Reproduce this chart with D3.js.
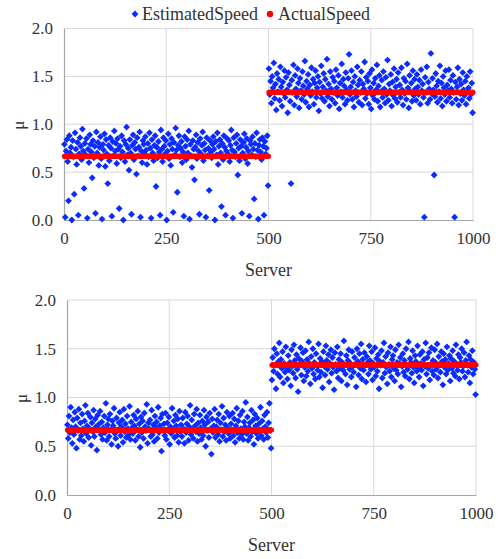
<!DOCTYPE html>
<html>
<head>
<meta charset="utf-8">
<script src="https://cdn.jsdelivr.net/npm/d3@7"></script>
<style>
  body { margin: 0; background: #fff; }
  text { font-family: "Liberation Serif", "Times New Roman", serif; fill: #333; }
</style>
</head>
<body>
<div id="chart"></div>
<script>
const xTicks = [0, 250, 500, 750, 1000]
const yTicks = [0, 0.5, 1.0, 1.5, 2.0]
const seriesNames = ['EstimatedSpeed', 'ActualSpeed']
const xTitle = 'Server'
const yTitle = 'μ'

// actual speed is a step: one level per server range
const actualTop = [{from: 1, to: 500, value: 0.667}, {from: 501, to: 1000, value: 1.333}]
const actualBottom = [{from: 1, to: 500, value: 0.667}, {from: 501, to: 1000, value: 1.333}]

// estimated speed, in hundredths, one every 2 servers
// low = servers 1,3,..,499   high = servers 501,503,..,999
const estServerStep = 2
const estTopLow = [
  79,3,72,84,61,20,88,70,76,0,83,66,27,91,74,58,81,5,69,86,
  77,63,95,72,33,80,68,85,2,74,60,89,79,71,44,83,65,77,7,92,
  70,81,57,76,87,64,1,79,73,90,56,84,69,38,78,62,86,75,4,82,
  67,93,72,80,59,85,74,12,77,65,88,71,0,83,61,79,97,68,75,52,
  84,70,6,78,89,63,81,74,48,86,67,76,92,3,72,60,83,79,69,87,
  73,58,80,66,91,75,2,84,70,62,78,88,35,76,65,82,71,5,94,74,
  61,86,77,69,83,0,72,90,64,79,57,85,74,8,81,68,96,73,29,78,
  88,66,75,82,60,71,4,87,77,63,84,70,93,1,79,67,55,83,74,42,
  76,89,64,81,72,6,85,69,78,92,62,80,73,3,86,67,75,31,83,71,
  65,79,87,74,0,82,68,91,58,77,84,70,14,80,63,88,76,5,72,85,
  69,83,61,78,94,73,2,86,71,66,80,89,47,75,62,84,77,7,70,81,
  90,64,76,85,59,72,4,83,79,68,87,74,22,80,66,91,73,1,78,84,
  71,63,86,77,5,82,69,75,88,36
]
const estTopHigh = [
  158,131,145,122,150,138,164,127,142,115,153,134,147,125,160,139,119,144,132,156,
  128,149,136,112,154,141,124,38,146,133,162,120,151,137,129,158,143,117,148,135,
  126,155,140,131,166,123,145,137,152,118,141,130,159,134,147,121,143,156,128,138,
  150,114,144,132,161,127,139,153,124,147,135,168,129,142,119,155,137,126,149,133,
  145,122,157,138,130,151,116,143,134,163,128,147,140,121,154,136,125,148,173,131,
  139,156,126,144,118,150,135,129,160,141,123,146,133,155,120,142,137,165,127,149,
  132,145,121,153,138,116,157,130,143,126,148,136,162,124,140,151,118,134,146,128,
  155,137,122,149,131,167,125,142,135,152,119,144,130,158,127,139,147,123,154,133,
  141,128,159,136,120,148,132,145,126,163,138,117,151,134,143,124,156,130,147,137,
  125,152,139,131,146,121,157,135,142,128,3,149,133,160,122,144,137,126,174,132,
  148,136,47,129,153,140,123,145,134,161,127,143,119,150,138,131,156,124,141,135,
  157,128,146,137,122,151,133,3,144,126,139,159,120,147,132,142,125,154,136,130,
  145,121,150,134,138,127,155,131,143,112
]
const estBottomLow = [
  72,58,81,64,90,69,53,77,62,85,70,48,79,66,88,57,74,61,83,68,
  55,76,92,63,71,84,59,68,80,51,74,65,87,60,78,70,46,82,67,73,
  86,62,75,57,69,81,64,94,56,72,78,60,83,67,52,76,71,89,63,58,
  79,66,50,74,85,61,70,77,54,88,65,73,59,81,68,62,91,57,75,69,
  63,82,71,56,78,67,86,60,73,49,80,64,76,58,84,70,66,93,53,74,
  68,77,60,87,62,72,55,81,69,75,58,90,64,71,79,45,83,66,73,61,
  84,57,74,66,80,52,70,63,89,67,76,59,82,71,61,78,54,86,65,72,
  60,79,68,53,85,64,73,81,56,70,92,62,77,67,58,83,71,65,88,55,
  74,63,82,69,57,76,61,87,72,50,80,66,75,59,84,68,42,78,64,71,
  88,59,70,77,62,83,55,74,67,91,60,79,65,72,56,85,69,63,81,58,
  73,66,84,61,78,54,71,89,64,76,58,82,68,62,86,57,75,70,95,63,
  80,56,69,74,60,87,65,77,52,83,71,63,79,58,73,66,90,61,76,68,
  57,82,70,64,85,59,74,94,66,48
]
const estBottomHigh = [
  118,141,127,150,133,109,145,124,137,156,121,139,130,147,115,135,126,152,131,119,
  143,128,136,112,149,132,125,154,138,120,144,129,106,140,134,151,123,137,146,117,
  131,148,122,139,127,157,135,114,142,130,150,124,136,119,145,133,128,155,121,140,
  126,137,110,147,132,123,153,138,129,144,116,135,149,125,141,131,108,146,134,127,
  152,120,139,130,145,117,136,128,158,133,124,143,113,138,149,129,135,121,147,132,
  126,141,134,111,150,137,123,145,130,155,119,139,128,146,133,116,142,136,124,153,
  138,129,147,118,135,131,151,122,140,127,144,109,137,133,148,120,136,156,125,142,
  131,114,146,134,127,152,121,139,143,130,117,149,128,136,124,154,135,141,111,132,
  145,126,138,122,150,133,129,157,119,140,136,125,148,131,115,143,137,127,153,130,
  121,144,135,128,147,112,139,132,156,124,141,130,146,118,134,151,127,138,123,149,
  136,129,155,120,142,133,126,147,137,113,145,131,139,124,152,128,135,143,117,140,
  130,148,125,137,122,154,134,128,144,119,141,136,150,127,132,146,121,138,157,133,
  126,143,115,139,131,148,124,136,129,103
]

const blue = '#0a2cff'
const red = '#ff0000'
const diamond = 'M0,-3.4L3.4,0L0,3.4L-3.4,0Z'

const svg = d3.select('#chart').append('svg')
  .attr('width', 503)
  .attr('height', 559)

// legend (top only)
const legend = svg.append('g')
legend.append('path')
  .attr('d', diamond)
  .attr('transform', 'translate(135,14)')
  .attr('fill', blue)
legend.append('text').attr('x', 142).attr('y', 20).style('font-size', '18px').text(seriesNames[0])
legend.append('circle').attr('cx', 270).attr('cy', 14).attr('r', 3.2).attr('fill', red)
legend.append('text').attr('x', 278).attr('y', 20).style('font-size', '18px').text(seriesNames[1])

const toPoints = function(low, high) {
  const a = low.map((v, i) => ({server: 1 + i * estServerStep, value: v / 100}))
  const b = high.map((v, i) => ({server: 501 + i * estServerStep, value: v / 100}))
  return a.concat(b)
}
const actualPoints = function(levels) {
  let pts = []
  for (let lv of levels) {
    for (let s = lv.from; s <= lv.to; s++) pts.push({server: s, value: lv.value})
  }
  return pts
}

const drawPanel = function(box, est, actual) {
  const x = d3.scaleLinear().domain([0, 1000]).range([box.left, box.right])
  const y = d3.scaleLinear().domain([0, 2]).range([box.bottom, box.top])
  const g = svg.append('g')

  // gridlines
  g.append('g').selectAll('line').data(yTicks.slice(1)).join('line')
    .attr('x1', box.left).attr('x2', box.right)
    .attr('y1', d => y(d)).attr('y2', d => y(d))
    .attr('stroke', '#d9d9d9').attr('stroke-width', 1)
  g.append('g').selectAll('line').data(xTicks.slice(1)).join('line')
    .attr('x1', d => x(d)).attr('x2', d => x(d))
    .attr('y1', box.top).attr('y2', box.bottom)
    .attr('stroke', '#d9d9d9').attr('stroke-width', 1)

  // axes
  const xAxis = g.append('g')
    .attr('transform', `translate(0,${box.bottom})`)
    .call(d3.axisBottom(x).tickValues(xTicks).tickSize(0).tickPadding(12).tickFormat(d3.format('d')))
  const yAxis = g.append('g')
    .attr('transform', `translate(${box.left},0)`)
    .call(d3.axisLeft(y).tickValues(yTicks).tickSize(0).tickPadding(11).tickFormat(d3.format('.1f')))
  for (let ax of [xAxis, yAxis]) {
    ax.attr('font-family', null)
    ax.select('.domain').attr('stroke', '#a6a6a6').attr('stroke-width', 1.2)
    ax.selectAll('text').style('font-size', '17px').attr('fill', '#333')
  }

  g.append('text')
    .attr('x', (box.left + box.right) / 2)
    .attr('y', box.bottom + 56)
    .attr('text-anchor', 'middle')
    .style('font-size', '18px')
    .text(xTitle)
  g.append('text')
    .attr('transform', `translate(${box.left - 40},${y(1) + 1}) rotate(-90)`)
    .attr('text-anchor', 'middle')
    .style('font-size', '17px')
    .text(yTitle)

  // estimated speed markers
  g.append('g').selectAll('path').data(est).join('path')
    .attr('d', diamond)
    .attr('transform', d => `translate(${x(d.server)},${y(d.value)})`)
    .attr('fill', blue)

  // actual speed markers (dense enough to read as a thick line)
  g.append('g').selectAll('circle').data(actual).join('circle')
    .attr('cx', d => x(d.server))
    .attr('cy', d => y(d.value))
    .attr('r', 2.5)
    .attr('fill', red)
}

drawPanel({left: 64, right: 473, top: 28.5, bottom: 220},
  toPoints(estTopLow, estTopHigh), actualPoints(actualTop))
drawPanel({left: 67, right: 476, top: 300, bottom: 495},
  toPoints(estBottomLow, estBottomHigh), actualPoints(actualBottom))
</script>
</body>
</html>
